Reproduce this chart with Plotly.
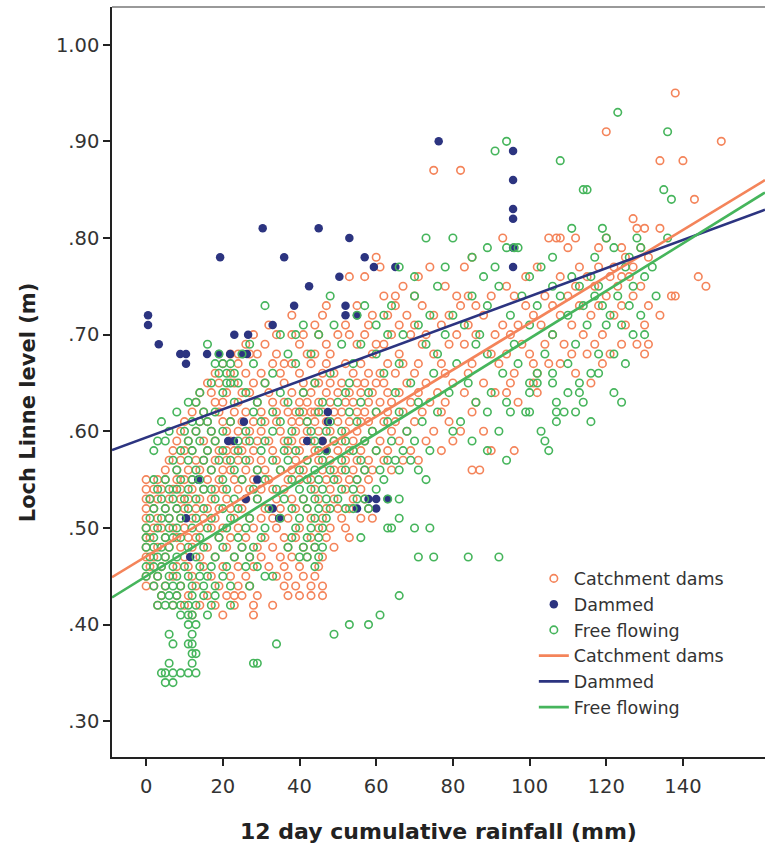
import plotly.graph_objects as go

# ---------------- data ----------------
# Each row: (Loch Linne level in m, [12 day cumulative rainfall values in mm])
catchment_rows = [
    (0.95, [138]),
    (0.91, [120]),
    (0.90, [150]),
    (0.88, [134, 140]),
    (0.87, [75, 82]),
    (0.84, [143]),
    (0.82, [127]),
    (0.81, [128, 130, 134]),
    (0.80, [93, 105, 107, 108, 112, 120]),
    (0.79, [110, 118, 124, 129]),
    (0.78, [60, 85, 125, 131]),
    (0.77, [61, 74, 83, 102, 113, 118, 122, 127]),
    (0.76, [53, 57, 71, 99, 108, 115, 121, 124, 126, 144]),
    (0.75, [67, 78, 94, 112, 117, 123, 129, 146]),
    (0.74, [62, 65, 70, 81, 84, 90, 96, 104, 110, 120, 127, 137, 138]),
    (0.73, [47, 55, 65, 72, 82, 86, 99, 106, 113, 118, 124, 131]),
    (0.72, [38, 46, 59, 63, 68, 75, 79, 88, 101, 108, 116, 122, 134]),
    (0.71, [32, 44, 52, 58, 66, 70, 77, 84, 93, 97, 103, 111, 125, 130]),
    (0.70, [28, 34, 38, 41, 45, 50, 53, 57, 64, 69, 73, 81, 86, 91, 95, 106, 114, 119]),
    (0.69, [26, 31, 40, 47, 55, 60, 62, 72, 79, 83, 98, 104, 109, 117, 124, 128, 131]),
    (0.68, [22, 24, 27, 29, 34, 42, 44, 48, 59, 66, 75, 90, 94, 100, 111, 115, 121, 130]),
    (0.67, [20, 24, 33, 36, 38, 43, 47, 52, 56, 63, 67, 71, 77, 85, 92, 101, 105, 108, 119]),
    (0.66, [18, 22, 26, 30, 35, 40, 46, 49, 54, 58, 61, 65, 70, 78, 84, 96, 102, 112]),
    (0.65, [16, 19, 23, 28, 31, 36, 41, 44, 45, 48, 51, 55, 57, 60, 62, 68, 73, 80, 88, 95, 101, 116]),
    (0.64, [14, 17, 21, 25, 27, 32, 38, 41, 43, 47, 50, 53, 56, 59, 63, 66, 71, 76, 83, 91, 94, 102]),
    (0.63, [13, 18, 20, 24, 29, 33, 36, 40, 42, 45, 48, 52, 54, 58, 61, 64, 69, 74, 78, 86, 97]),
    (0.62, [12, 15, 19, 23, 26, 30, 34, 37, 39, 41, 43, 44, 46, 49, 51, 55, 57, 60, 63, 67, 72, 77, 85]),
    (0.61, [10, 14, 16, 20, 22, 25, 28, 31, 34, 38, 40, 42, 44, 47, 50, 53, 56, 58, 62, 65, 70, 79]),
    (0.60, [9, 13, 17, 21, 24, 27, 30, 35, 39, 42, 45, 48, 52, 55, 59, 64, 68, 75, 82, 88]),
    (0.59, [8, 11, 15, 18, 22, 26, 29, 32, 36, 38, 41, 43, 46, 49, 51, 54, 57, 61, 66, 73, 80]),
    (0.58, [7, 10, 12, 16, 19, 21, 23, 25, 28, 33, 37, 40, 44, 47, 50, 53, 56, 60, 63, 69, 77, 90, 96]),
    (0.57, [6, 9, 13, 15, 18, 21, 24, 27, 30, 34, 39, 42, 45, 48, 52, 55, 58, 62, 67, 71]),
    (0.56, [5, 8, 11, 14, 17, 20, 22, 26, 29, 31, 35, 38, 41, 46, 49, 51, 54, 57, 59, 64, 85, 87]),
    (0.55, [0, 3, 5, 8, 10, 12, 16, 19, 23, 25, 28, 32, 37, 40, 43, 47, 50, 53, 55, 58]),
    (0.54, [0, 2, 4, 7, 9, 12, 15, 18, 20, 24, 27, 30, 33, 36, 44, 48, 52, 56]),
    (0.53, [0, 1, 3, 6, 9, 11, 14, 17, 21, 26, 29, 34, 38, 41, 45, 49, 54, 57]),
    (0.52, [0, 2, 5, 8, 10, 13, 16, 19, 22, 25, 31, 35, 39, 42, 47, 50, 53, 58]),
    (0.51, [0, 3, 6, 9, 12, 15, 18, 23, 27, 30, 33, 37, 43, 46, 51, 56, 59]),
    (0.50, [0, 2, 4, 7, 10, 14, 17, 20, 24, 28, 34, 40, 45, 48, 52]),
    (0.49, [0, 1, 5, 8, 11, 13, 19, 22, 26, 31, 36, 39, 43, 47, 53]),
    (0.48, [0, 3, 6, 9, 12, 16, 21, 25, 29, 33, 37, 41, 44, 49]),
    (0.47, [0, 2, 5, 10, 14, 18, 23, 27, 30, 35, 38, 42, 46]),
    (0.46, [1, 4, 8, 11, 15, 20, 24, 28, 32, 36, 40, 45]),
    (0.45, [0, 3, 7, 12, 17, 22, 26, 34, 37, 41, 44]),
    (0.44, [0, 2, 5, 9, 13, 19, 24, 27, 36, 39, 43, 46]),
    (0.43, [4, 8, 11, 16, 21, 23, 25, 29, 37, 40, 43, 46]),
    (0.42, [3, 7, 10, 14, 18, 23, 28, 33]),
    (0.41, [12, 20, 28]),
]

free_rows = [
    (0.93, [123]),
    (0.91, [136]),
    (0.90, [94]),
    (0.89, [91]),
    (0.88, [108]),
    (0.85, [114, 115, 135]),
    (0.84, [137]),
    (0.81, [111, 119]),
    (0.80, [73, 80, 120, 128, 136]),
    (0.79, [89, 94, 96, 97, 122, 129]),
    (0.78, [85, 106, 117, 126]),
    (0.77, [66, 78, 91, 103, 125, 132]),
    (0.76, [70, 88, 100, 111, 116, 130]),
    (0.75, [76, 92, 106, 113, 118, 127]),
    (0.74, [48, 70, 85, 98, 108, 117, 123, 133]),
    (0.73, [31, 57, 64, 89, 102, 114, 119, 126]),
    (0.72, [55, 62, 74, 80, 95, 110, 121, 129]),
    (0.71, [41, 49, 60, 71, 83, 100, 115, 120, 124]),
    (0.70, [35, 39, 45, 63, 67, 78, 87, 106, 127, 130]),
    (0.69, [16, 27, 51, 56, 73, 86, 96, 112]),
    (0.68, [19, 25, 37, 43, 60, 76, 89, 104, 118, 122]),
    (0.67, [18, 20, 22, 28, 39, 54, 66, 81, 97, 110, 125]),
    (0.66, [19, 21, 23, 33, 48, 62, 75, 93, 102, 106, 116, 118]),
    (0.65, [17, 21, 22, 24, 31, 44, 53, 69, 84, 100, 102, 106, 113]),
    (0.64, [14, 20, 26, 35, 41, 52, 58, 65, 79, 90, 100, 110, 113, 122]),
    (0.63, [11, 13, 23, 29, 37, 46, 50, 56, 71, 86, 94, 107, 114, 124]),
    (0.62, [8, 15, 18, 28, 33, 40, 45, 53, 60, 66, 76, 89, 95, 99, 100, 107, 109, 112]),
    (0.61, [4, 12, 14, 16, 22, 30, 35, 42, 48, 55, 63, 72, 82, 107, 116]),
    (0.60, [6, 10, 13, 17, 20, 26, 33, 38, 43, 47, 51, 59, 68, 80, 92, 103]),
    (0.59, [3, 5, 11, 14, 18, 24, 27, 31, 37, 44, 49, 52, 57, 64, 70, 85, 104]),
    (0.58, [2, 9, 12, 16, 20, 24, 30, 36, 39, 45, 47, 54, 60, 67, 74, 89, 105]),
    (0.57, [7, 11, 15, 19, 22, 26, 33, 37, 42, 46, 51, 56, 63, 65, 69, 94]),
    (0.56, [8, 13, 17, 23, 29, 35, 40, 44, 48, 52, 57, 61, 66, 71]),
    (0.55, [2, 5, 9, 12, 14, 20, 25, 31, 38, 42, 45, 49, 55, 62, 73]),
    (0.54, [3, 6, 8, 11, 15, 17, 21, 28, 34, 40, 43, 46, 51, 54, 60]),
    (0.53, [1, 4, 7, 10, 13, 18, 23, 29, 36, 41, 44, 47, 50, 55, 57, 63, 66]),
    (0.52, [2, 5, 8, 11, 15, 20, 24, 32, 38, 42, 45, 48, 52, 54, 58]),
    (0.51, [1, 4, 6, 9, 13, 17, 22, 27, 35, 40, 44, 47, 66]),
    (0.50, [0, 3, 6, 8, 12, 16, 21, 26, 31, 39, 43, 46, 63, 64, 70, 74]),
    (0.49, [0, 2, 5, 7, 9, 14, 19, 24, 30, 38, 42, 45, 56]),
    (0.48, [0, 2, 4, 6, 11, 15, 20, 25, 28, 37, 41, 44, 46]),
    (0.47, [1, 3, 5, 8, 13, 18, 23, 27, 40, 42, 45, 71, 75, 84, 92]),
    (0.46, [0, 2, 4, 7, 10, 14, 17, 21, 26, 29, 44]),
    (0.45, [0, 3, 6, 8, 11, 14, 16, 20, 31, 33]),
    (0.44, [2, 5, 7, 9, 12, 15, 18, 22, 27]),
    (0.43, [4, 6, 8, 12, 15, 18, 66]),
    (0.42, [3, 5, 7, 9, 11, 13, 17, 22]),
    (0.41, [9, 11, 12, 16, 61]),
    (0.40, [11, 13, 53, 58]),
    (0.39, [6, 12, 49]),
    (0.38, [7, 11, 12, 34]),
    (0.37, [12, 13]),
    (0.36, [6, 12, 28, 29]),
    (0.35, [4, 5, 7, 9, 11, 13]),
    (0.34, [5, 7]),
]

dammed_x = [0.5, 0.5, 3.3, 8.9, 10.4, 15.9, 19.0, 21.9, 25.3, 26.3, 10.4, 19.3, 23.0, 26.6,
            30.4, 33.0, 36.0, 38.6, 42.5, 45.0, 53.0, 57.0, 59.4, 65.0, 50.4, 52.0, 52.0, 55.0,
            76.3, 95.7, 95.7, 95.7, 95.7, 95.7, 95.7, 47.4, 47.4, 25.5, 21.4, 22.9, 42.0, 46.0,
            47.0, 13.6, 29.0, 26.0, 33.0, 34.7, 10.4, 58.0, 60.0, 63.0, 55.0, 60.0, 11.5]
dammed_y = [0.72, 0.71, 0.69, 0.68, 0.68, 0.68, 0.68, 0.68, 0.68, 0.68, 0.67, 0.78, 0.70, 0.70,
            0.81, 0.71, 0.78, 0.73, 0.75, 0.81, 0.80, 0.78, 0.77, 0.77, 0.76, 0.73, 0.72, 0.72,
            0.90, 0.89, 0.86, 0.83, 0.82, 0.79, 0.77, 0.62, 0.61, 0.61, 0.59, 0.59, 0.59, 0.59,
            0.58, 0.55, 0.55, 0.53, 0.52, 0.51, 0.51, 0.53, 0.53, 0.53, 0.52, 0.52, 0.47]

# linear fit lines: level = intercept + slope * rainfall
fit_names = ["Catchment dams", "Dammed", "Free flowing"]
fit_intercepts = [0.4705, 0.5936, 0.4500]
fit_slopes = [0.002413, 0.00146, 0.00246]

x_ticks = [0, 20, 40, 60, 80, 100, 120, 140]
y_ticks = [0.30, 0.40, 0.50, 0.60, 0.70, 0.80, 0.90, 1.00]
y_tick_text = [".30", ".40", ".50", ".60", ".70", ".80", ".90", "1.00"]

X_RANGE = [-8.9, 161.4]
Y_RANGE = [0.263, 1.039]

ORANGE = "#F4845A"
NAVY = "#2C3480"
GREEN = "#46B55C"
FONT = "DejaVu Sans"


def flatten(rows):
    xs, ys = [], []
    for level, xvals in rows:
        for v in xvals:
            xs.append(v)
            ys.append(level)
    return xs, ys


cd_x, cd_y = flatten(catchment_rows)
ff_x, ff_y = flatten(free_rows)

fig = go.Figure()
fig.add_trace(go.Scatter(x=cd_x, y=cd_y, mode="markers", name="Catchment dams",
                         marker=dict(symbol="circle-open", size=7.5, color=ORANGE,
                                     line=dict(width=1.6, color=ORANGE))))
fig.add_trace(go.Scatter(x=dammed_x, y=dammed_y, mode="markers", name="Dammed",
                         marker=dict(symbol="circle", size=8.5, color=NAVY,
                                     line=dict(width=0))))
fig.add_trace(go.Scatter(x=ff_x, y=ff_y, mode="markers", name="Free flowing",
                         marker=dict(symbol="circle-open", size=7.5, color=GREEN,
                                     line=dict(width=1.6, color=GREEN))))

for name, b0, b1, col in zip(fit_names, fit_intercepts, fit_slopes, [ORANGE, NAVY, GREEN]):
    xs = X_RANGE
    ys = [b0 + b1 * v for v in xs]
    fig.add_trace(go.Scatter(x=xs, y=ys, mode="lines", name=name,
                             line=dict(color=col, width=2.6)))

fig.update_layout(
    width=765, height=845,
    margin=dict(l=112, r=0, t=7, b=88),
    plot_bgcolor="white", paper_bgcolor="white",
    font=dict(family=FONT, size=18, color="#333333"),
    showlegend=True,
    legend=dict(x=0.646, y=0.262, xanchor="left", yanchor="top",
                bgcolor="rgba(0,0,0,0)", font=dict(size=17.5, color="#333333"),
                tracegroupgap=0, itemwidth=30),
)
fig.update_xaxes(range=X_RANGE, tickvals=x_ticks, ticks="outside", ticklen=7,
                 tickwidth=1.5, tickcolor="#222222", showline=True, linecolor="#222222",
                 linewidth=1.5, showgrid=False, zeroline=False,
                 tickfont=dict(size=19.5, color="#333333"), ticklabelstandoff=4,
                 title=dict(text="12 day cumulative rainfall (mm)",
                            font=dict(size=22, weight="bold", color="#222222"), standoff=26))
fig.update_yaxes(range=Y_RANGE, tickvals=y_ticks, ticktext=y_tick_text, ticks="outside",
                 ticklen=7, tickwidth=1.5, tickcolor="#222222", showline=True,
                 linecolor="#222222", linewidth=1.5, showgrid=False, zeroline=False,
                 tickfont=dict(size=19.5, color="#333333"))
fig.add_annotation(text="Loch Linne level (m)", xref="paper", yref="paper",
                   x=0, y=0.473, xanchor="center", yanchor="middle", xshift=-84,
                   textangle=-90, showarrow=False,
                   font=dict(family=FONT, size=21, weight="bold", color="#222222"))
fig.add_shape(type="line", xref="paper", yref="paper", x0=0, x1=1, y0=1, y1=1,
              line=dict(color="#999999", width=2))

fig.write_html("out.html")
